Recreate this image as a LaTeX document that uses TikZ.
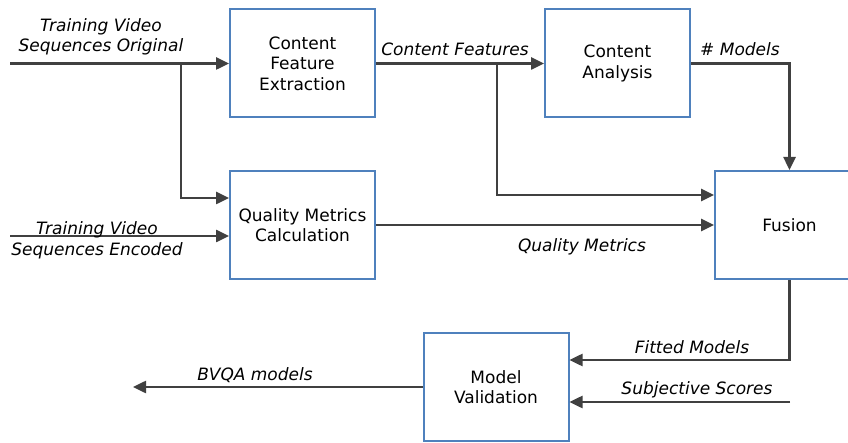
\documentclass[tikz,border=0pt]{standalone}
\usepackage{fontspec}
\setmainfont{DejaVu Sans}
\usetikzlibrary{arrows.meta}

\definecolor{blockblue}{RGB}{79,129,189}
\definecolor{linegray}{RGB}{64,64,64}

\tikzset{
  block/.style={draw=blockblue, line width=2pt, minimum width=145pt, minimum height=108pt,
    align=center, inner sep=0pt, font=\fontsize{17}{20.5}\selectfont},
  flow/.style={draw=linegray, line width=2.5pt, -{Triangle[length=13pt,width=12pt]}},
  lbl/.style={align=center, inner sep=0pt, font=\fontsize{17}{20.5}\selectfont\itshape},
}

\begin{document}
\begin{tikzpicture}[x=1pt, y=-1pt]
  \path[use as bounding box, fill=white] (0,0) rectangle (848,443);
  % Blocks
  \node[block] (cfe) at (302.5,63.5) {Content\\Feature\\Extraction};
  \node[block] (ca) at (617.5,63.5) {Content\\Analysis};
  \node[block] (qmc) at (302.5,225) {Quality Metrics\\Calculation};
  \node[block, minimum width=149pt] (fus) at (789.5,225) {Fusion};
  \node[block] (mv) at (496,387) {Model\\Validation};
  % Free ends and branch points
  \coordinate (orig) at (10,63.5);
  \coordinate (enc) at (10,236);
  \coordinate (subj) at (790,402);
  \coordinate (out) at (133,387);
  \coordinate (split1) at (181,63.5);
  \coordinate (split2) at (497,63.5);
  % Training inputs
  \draw[flow] (orig) -- (cfe.west);
  \draw[flow] (split1) |- ([yshift=27pt]qmc.west);
  \draw[flow] (enc) -- (enc -| qmc.west);
  \node[lbl] (origlbl) at (101,37) {Training Video\\Sequences Original};
  \node[lbl] (enclbl) at (97,240.5) {Training Video\\Sequences Encoded};
  % Features and metrics
  \draw[flow] (cfe.east) -- (ca.west);
  \node[lbl] (featlbl) at (455,49) {Content Features};
  \draw[flow] (split2) |- ([yshift=30pt]fus.west);
  \draw[flow] (qmc.east) -- (qmc.east -| fus.west);
  \node[lbl] (qmlbl) at (582,247) {Quality Metrics};
  \draw[flow] (ca.east) -| (fus.north);
  \node[lbl] (nmlbl) at (740,49) {\# Models};
  % Validation
  \draw[flow] (fus.south) |- ([yshift=27pt]mv.east);
  \node[lbl] (fitlbl) at (692,347.5) {Fitted Models};
  \draw[flow] (subj) -- (subj -| mv.east);
  \node[lbl] (subjlbl) at (697,389.5) {Subjective Scores};
  \draw[flow] (mv.west) -- (out);
  \node[lbl] (bvqalbl) at (255,375) {BVQA models};
\end{tikzpicture}
\end{document}
